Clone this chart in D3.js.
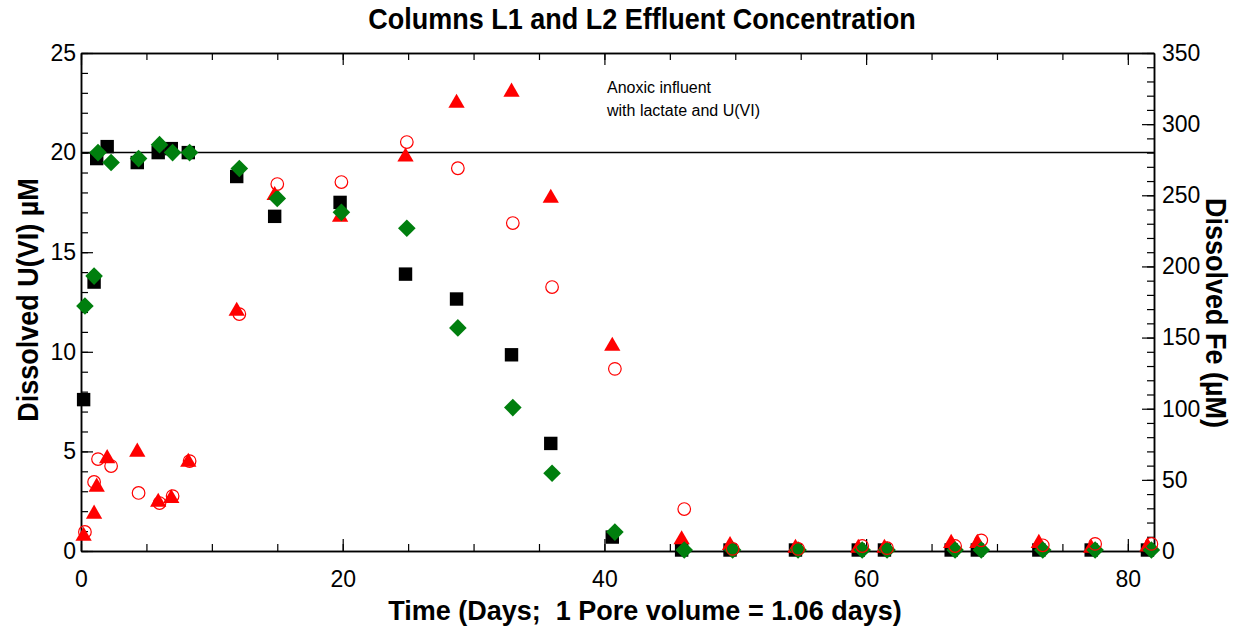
<!DOCTYPE html>
<html>
<head>
<meta charset="utf-8">
<script src="https://d3js.org/d3.v7.min.js"></script>
<style>
  body { margin: 0; background: #fff; }
  text { font-family: "Liberation Sans", Arial, sans-serif; fill: #000; }
  .axis-title { font-size: 27px; font-weight: bold; }
</style>
</head>
<body>
<div id="chart"></div>
<script>
// sampling times (days) for each column
var daysL1 = [0.2, 1.0, 1.2, 2.0, 4.3, 5.9, 6.9, 8.2, 11.9, 14.8, 19.8, 24.8, 28.7, 32.9, 35.9, 40.6,
              45.9, 49.6, 54.6, 59.4, 61.4, 66.5, 68.5, 73.2, 77.2, 81.5];
var daysL2 = [0.3, 1.0, 1.3, 2.3, 4.4, 6.0, 7.0, 8.3, 12.1, 15.0, 19.9, 24.9, 28.8, 33.0, 36.0, 40.8,
              46.1, 49.8, 54.8, 59.7, 61.6, 66.8, 68.8, 73.5, 77.5, 81.8];

// dissolved U(VI), uM (left axis)
var uL1 = [7.6, 13.5, 19.7, 20.3, 19.5, 20.0, 20.2, 20.0, 18.8, 16.8, 17.5, 13.9, 12.65, 9.85, 5.4, 0.7,
           0.05, 0.05, 0.05, 0.05, 0.05, 0.05, 0.05, 0.05, 0.05, 0.05];
var uL2 = [12.3, 13.8, 20.0, 19.5, 19.7, 20.4, 20.0, 20.0, 19.2, 17.7, 17.0, 16.2, 11.2, 7.2, 3.9, 0.95,
           0.05, 0.05, 0.05, 0.05, 0.05, 0.05, 0.05, 0.05, 0.05, 0.05];

// dissolved Fe, uM (right axis)
var feL1 = [10.5, 26, 45, 65, 69.6, 34.4, 37, 62.5, 168.6, 250, 234.7, 277, 314.8, 322.6, 248, 144,
            8, 4, 2, 2, 2, 5.5, 5.5, 5.5, 2, 3];
var feL2 = [13.4, 48.5, 64.6, 59.7, 40.8, 33.7, 38.6, 63.2, 166.5, 257.9, 259.3, 287.4, 269, 230.5, 185.5, 128,
            29.5, 1.5, 1.5, 3.5, 2, 3.5, 7.5, 4, 5, 5];

var influentU = 20;
var xTicks = [0, 20, 40, 60, 80];
var yTicks = [0, 5, 10, 15, 20, 25];
var y2Ticks = [0, 50, 100, 150, 200, 250, 300, 350];

var W = 1241, H = 628;
var m = {left: 81, right: 1154, top: 53, bottom: 551};

var svg = d3.select('#chart').append('svg').attr('width', W).attr('height', H);

var x = d3.scaleLinear().domain([0, 82]).range([m.left, m.right]);
var y = d3.scaleLinear().domain([0, 25]).range([m.bottom, m.top]);
var y2 = d3.scaleLinear().domain([0, 350]).range([m.bottom, m.top]);

var minorX = d3.range(0, 82.1, 5);
var minorY = d3.range(0, 25.1, 1);
var minorY2 = d3.range(0, 350.1, 10);

var tMaj = 12, tMin = 7;

// axes, ticks pointing inward on all four sides
svg.append('g').attr('transform', `translate(0,${m.bottom})`)
  .call(d3.axisBottom(x).tickValues(minorX).tickSizeInner(-tMin).tickSizeOuter(0).tickFormat(''));
svg.append('g').attr('transform', `translate(0,${m.bottom})`)
  .call(d3.axisBottom(x).tickValues(xTicks).tickSizeInner(-tMaj).tickSizeOuter(0).tickPadding(20));
svg.append('g').attr('transform', `translate(0,${m.top})`)
  .call(d3.axisTop(x).tickValues(minorX).tickSizeInner(-tMin).tickSizeOuter(0).tickFormat(''));
svg.append('g').attr('transform', `translate(0,${m.top})`)
  .call(d3.axisTop(x).tickValues(xTicks).tickSizeInner(-tMaj).tickSizeOuter(0).tickFormat(''));

svg.append('g').attr('transform', `translate(${m.left},0)`)
  .call(d3.axisLeft(y).tickValues(minorY).tickSizeInner(-tMin).tickSizeOuter(0).tickFormat(''));
svg.append('g').attr('transform', `translate(${m.left},0)`)
  .call(d3.axisLeft(y).tickValues(yTicks).tickSizeInner(-tMaj).tickSizeOuter(0).tickPadding(5));

svg.append('g').attr('transform', `translate(${m.right},0)`)
  .call(d3.axisRight(y2).tickValues(minorY2).tickSizeInner(-tMin).tickSizeOuter(0).tickFormat(''));
svg.append('g').attr('transform', `translate(${m.right},0)`)
  .call(d3.axisRight(y2).tickValues(y2Ticks).tickSizeInner(-tMaj).tickSizeOuter(0).tickPadding(8));

svg.selectAll('.domain').attr('stroke', '#000').attr('stroke-width', 1.5);
svg.selectAll('.tick line').attr('stroke', '#000').attr('stroke-width', 1.2);
svg.selectAll('.tick text').attr('fill', '#000').style('font-size', '23px')
  .style('font-family', '"Liberation Sans", Arial, sans-serif');

// influent concentration line
svg.append('line')
  .attr('x1', x(0)).attr('x2', x(82))
  .attr('y1', y(influentU)).attr('y2', y(influentU))
  .attr('stroke', '#000').attr('stroke-width', 1.5);

// series
var sym = {
  square: d3.symbol().type(d3.symbolSquare).size(180),
  triangle: d3.symbol().type(d3.symbolTriangle).size(115),
  diamond: d3.symbol().type(d3.symbolSquare).size(155)
};

svg.append('g').selectAll('path').data(daysL1).join('path')
  .attr('d', sym.square)
  .attr('transform', (d, i) => `translate(${x(d)},${y(uL1[i])})`)
  .attr('fill', '#000');

svg.append('g').selectAll('path').data(daysL1).join('path')
  .attr('d', sym.triangle)
  .attr('transform', (d, i) => `translate(${x(d)},${y2(feL1[i])})`)
  .attr('fill', '#ff0000');

svg.append('g').selectAll('path').data(daysL2).join('path')
  .attr('d', sym.diamond)
  .attr('transform', (d, i) => `translate(${x(d)},${y(uL2[i])}) rotate(45)`)
  .attr('fill', '#007f0e');

svg.append('g').selectAll('circle').data(daysL2).join('circle')
  .attr('cx', d => x(d))
  .attr('cy', (d, i) => y2(feL2[i]))
  .attr('r', 6.3)
  .attr('fill', 'none')
  .attr('stroke', '#ff0000')
  .attr('stroke-width', 1.2);

// texts
svg.append('text').attr('class', 'axis-title')
  .attr('transform', 'translate(642,29) scale(1,1.1)').attr('text-anchor', 'middle')
  .text('Columns L1 and L2 Effluent Concentration');

svg.append('text').attr('class', 'axis-title')
  .attr('transform', 'translate(645,620)').attr('text-anchor', 'middle')
  .style('white-space', 'pre')
  .text('Time (Days;  1 Pore volume = 1.06 days)');

svg.append('text').attr('class', 'axis-title')
  .attr('transform', 'translate(38,300) rotate(-90) scale(1,1.1)').attr('text-anchor', 'middle')
  .text('Dissolved U(VI) \u00b5M');

svg.append('text').attr('class', 'axis-title')
  .attr('transform', 'translate(1206,313) rotate(90) scale(1,1.1)').attr('text-anchor', 'middle')
  .text('Dissolved Fe (\u00b5M)');

var note = svg.append('text').attr('x', 607).attr('y', 93).style('font-size', '16px');
note.append('tspan').attr('x', 607).text('Anoxic influent');
note.append('tspan').attr('x', 607).attr('dy', 23).text('with lactate and U(VI)');
</script>
</body>
</html>
